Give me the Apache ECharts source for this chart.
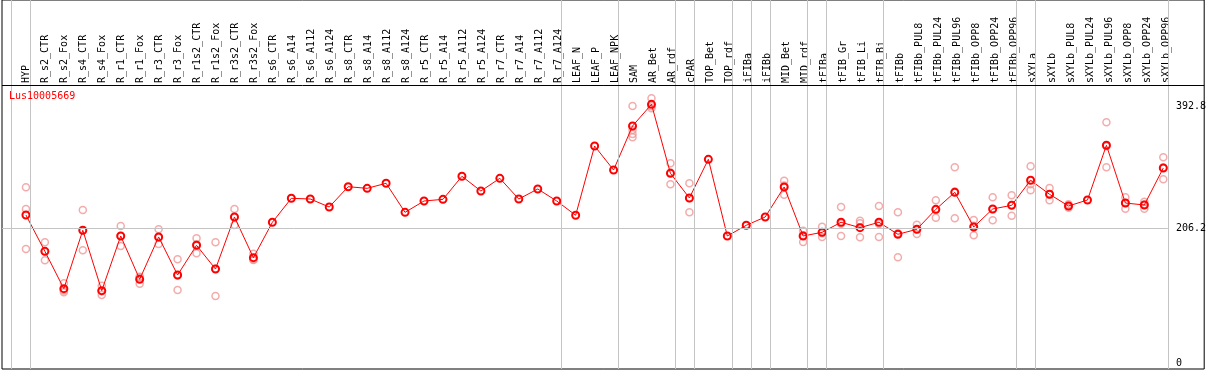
<!DOCTYPE html>
<html>
<head>
<meta charset="utf-8">
<script src="https://cdn.jsdelivr.net/npm/echarts@6/dist/echarts.min.js"></script>
<style>
html,body{margin:0;padding:0;background:#fff;}
#c{width:1209px;height:370px;}
</style>
</head>
<body>
<div id="c"></div>
<script>
const title = 'Lus10005669';
const categories = ['HYP','R_s2_CTR','R_s2_Fox','R_s4_CTR','R_s4_Fox','R_r1_CTR','R_r1_Fox','R_r3_CTR','R_r3_Fox','R_r1s2_CTR','R_r1s2_Fox','R_r3s2_CTR','R_r3s2_Fox','R_s6_CTR','R_s6_A14','R_s6_A112','R_s6_A124','R_s8_CTR','R_s8_A14','R_s8_A112','R_s8_A124','R_r5_CTR','R_r5_A14','R_r5_A112','R_r5_A124','R_r7_CTR','R_r7_A14','R_r7_A112','R_r7_A124','LEAF_N','LEAF_P','LEAF_NPK','SAM','AR_Bet','AR_rdf','cPAR','TOP_Bet','TOP_rdf','iFIBa','iFIBb','MID_Bet','MID_rdf','tFIBa','tFIB_Gr','tFIB_Li','tFIB_Bi','tFIBb','tFIBb_PUL8','tFIBb_PUL24','tFIBb_PUL96','tFIBb_OPP8','tFIBb_OPP24','tFIBb_OPP96','sXYLa','sXYLb','sXYLb_PUL8','sXYLb_PUL24','sXYLb_PUL96','sXYLb_OPP8','sXYLb_OPP24','sXYLb_OPP96'];
const means = [226.4,171.0,114.0,203.1,111.0,194.4,128.3,192.9,134.9,180.2,144.0,223.4,161.3,215.3,251.9,250.8,238.6,269.6,267.1,274.8,230.5,247.8,250.3,285.5,263.0,282.4,250.8,266.1,247.8,226.0,331.7,295.1,362.2,395.3,290.0,252.4,311.4,194.4,210.7,223.4,269.2,194.4,200.0,215.3,207.1,215.3,197.0,204.6,235.1,261.0,208.1,235.6,241.2,279.4,258.0,240.2,249.3,332.8,244.7,241.7,298.1];
const replicates = [
  [268.7,235.6,174.6],[184.8,171.0,157.3],[122.2,111.3,108.5],[234.1,202.6,172.6],[118.6,110.0,104.4],
  [209.6,194.5,179.1],[132.3,131.0,121.6],[204.6,192.0,182.2],[158.8,134.0,112.0],[190.9,181.7,168.0],
  [184.8,144.5,102.8],[235.6,223.4,211.2],[167.4,158.7,157.8],
  [],[],[],[],[],[],[],[],[],[],[],[],[],[],[],[],[],[],[],
  [392.7,356.1,350.0,345.0],[404.5,392.2,389.2],[305.3,291.4,273.3],[274.8,252.0,230.5],
  [],[],[],[],
  [278.8,271.4,257.4],[202.5,195.5,185.2],[208.6,198.5,192.9],[238.6,212.9,194.4],[217.7,213.8,192.4],
  [240.2,212.8,192.9],[230.5,198.6,161.9],[211.6,204.8,197.4],[248.8,234.2,222.3],[299.2,262.4,221.4],
  [218.8,210.1,195.4],[253.4,235.1,218.3],[256.5,241.7,225.4],[300.7,273.4,264.1],[267.6,257.6,248.8],
  [243.0,240.2,237.4],[],[367.9,331.3,299.2],[253.4,244.7,236.0],[246.7,242.4,236.0],[314.5,298.9,280.9]
];
const groupEnds = [-1,0,28,31,34,35,37,38,39,41,42,45,52,53,60];
const yTickLabels = [0, 206.2, 392.8];
const refLine = 206.2;

const FONT = 'DejaVu Sans Mono';
const meanData = means.map((v,i)=>[i,v]);
const repData = [];
replicates.forEach((arr,i)=>arr.forEach(v=>repData.push([i,v])));
const lastIdx = categories.length - 1;

const sepLines = groupEnds.map(e=>({xAxis: e + 0.24, lineStyle:{color:'#c4c4c4', width:1, type:'solid'}}));

const chart = echarts.init(document.getElementById('c'), null, {renderer:'canvas'});
chart.setOption({
  animation: false,
  backgroundColor: '#fff',
  title: {
    text: title, left: 9, top: 91, padding: 0,
    textStyle: {color:'#ff0000', fontSize:10, fontFamily:FONT, fontWeight:'normal'}
  },
  grid: [
    {left:2, right:2, top:0, bottom:1, show:true, borderColor:'#000', borderWidth:1, backgroundColor:'transparent'},
    {left:16.5, width:1159, top:84, height:2}
  ],
  xAxis: [
    {gridIndex:0, type:'value', min:-1.26316, max:62.1579, show:false},
    {gridIndex:1, type:'category', data:categories, boundaryGap:true, position:'top',
     axisLine:{show:false}, axisTick:{show:false}, splitLine:{show:false},
     axisLabel:{interval:0, rotate:90, margin:1, fontFamily:FONT, fontSize:10, color:'#000'}}
  ],
  yAxis: [
    {gridIndex:0, type:'value', min:-8.545, max:554.47, position:'right', offset:-36.3,
     axisLine:{show:false}, axisTick:{show:false}, splitLine:{show:false},
     axisLabel:{customValues:yTickLabels, margin:8, fontFamily:FONT, fontSize:10, color:'#000',
       formatter:(v)=> v===0 ? '0' : Number(v).toFixed(1)}},
    {gridIndex:1, type:'value', show:false}
  ],
  series: [
    {
      type:'scatter', xAxisIndex:0, yAxisIndex:0, data:repData, z:2,
      symbol:'circle', symbolSize:7,
      itemStyle:{color:'rgba(0,0,0,0)', borderColor:'#f09696', borderWidth:1.5},
      markLine:{
        silent:true, symbol:['none','none'], label:{show:false}, animation:false,
        data: sepLines.concat([
          {yAxis: 424.78, lineStyle:{color:'#000', width:1, type:'solid'}},
          [{coord:[-1.26316, refLine]},{coord:[lastIdx+0.24, refLine], lineStyle:{color:'#c4c4c4', width:1, type:'solid'}}]
        ])
      }
    },
    {
      type:'line', xAxisIndex:0, yAxisIndex:0, data:meanData, z:3,
      symbol:'circle', symbolSize:7, showSymbol:true, showAllSymbol:true,
      lineStyle:{color:'#ff0000', width:1},
      itemStyle:{color:'rgba(0,0,0,0)', borderColor:'#ff0000', borderWidth:2}
    }
  ]
});
</script>
</body>
</html>
